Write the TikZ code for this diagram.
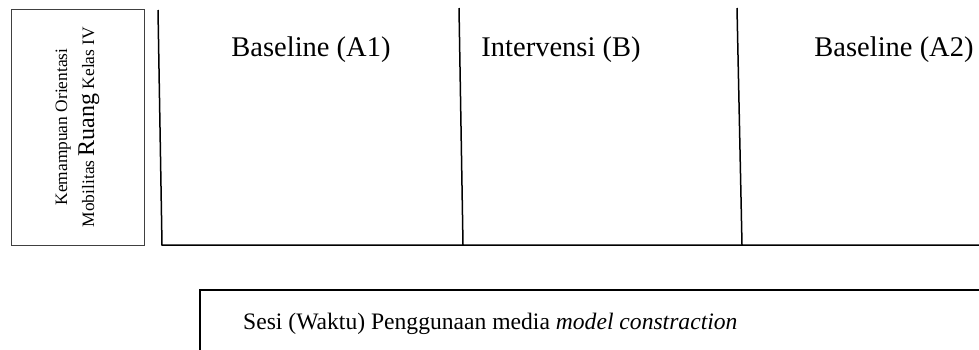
\documentclass[tikz,border=0pt]{standalone}
\usepackage{fontspec}
\setmainfont{Liberation Serif}
\begin{document}
\begin{tikzpicture}[x=1pt,y=-1pt,
  axis/.style={line width=1.5pt, black},
  frame/.style={line width=1.8pt, black},
  phase/.style={font=\fontsize{28.5}{34}\selectfont, anchor=base, inner sep=0pt}]
  % canvas
  \path[use as bounding box, clip] (0,0) rectangle (979,349);

  % vertical label box
  \node[draw=black!75, line width=1pt, rotate=90, minimum width=236pt,
        minimum height=133pt, align=center, inner sep=0pt,
        font=\fontsize{17.4}{27}\selectfont] (ylab) at (77.5,127)
        {Kemampuan Orientasi\\ Mobilitas {\fontsize{24}{24}\selectfont Ruang} Kelas IV};

  % axes
  \coordinate (otop) at (158,10);
  \coordinate (o) at (162,245);
  \coordinate (xend) at (985,245);
  \draw[axis] (otop) -- (o) -- (xend);

  % phase dividers
  \coordinate (d1t) at (459,8);
  \coordinate (d1b) at (463,245);
  \coordinate (d2t) at (737,8);
  \coordinate (d2b) at (742,245);
  \draw[axis] (d1t) -- (d1b);
  \draw[axis] (d2t) -- (d2b);

  % phase labels
  \node[phase] (a1) at (311,56) {Baseline (A1)};
  \node[phase] (b) at (561,56) {Intervensi (B)};
  \node[phase] (a2) at (894,56) {Baseline (A2)};

  % session caption box
  \node[font=\fontsize{23.6}{28}\selectfont, anchor=base west, inner sep=0pt] (sesi) at (243,329)
    {Sesi (Waktu) Penggunaan media \textit{model constraction}};
  \coordinate (bl) at (200,360);
  \coordinate (tl) at (200,290);
  \coordinate (tr) at (990,290);
  \draw[frame] (bl) -- (tl) -- (tr);
\end{tikzpicture}
\end{document}
